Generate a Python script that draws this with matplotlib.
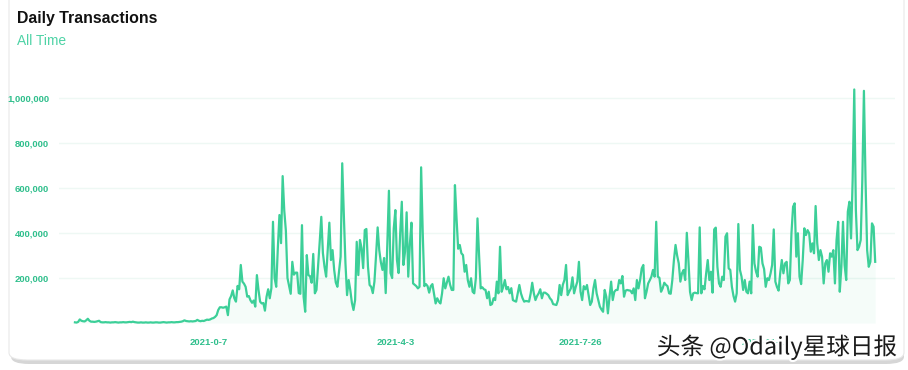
import numpy as np
import pandas as pd
import matplotlib
matplotlib.use("Agg")
import matplotlib.pyplot as plt
import matplotlib.patheffects as pe
from matplotlib.patches import FancyBboxPatch
from matplotlib.ticker import FuncFormatter

# Daily transactions (thousands), one value per day from 2020-10-16
tx_k = [
    3, 2, 5, 16, 10, 8, 7, 12, 19, 10, 6, 6, 5, 6, 8, 10, 4, 3, 3, 4,
    3, 3, 2, 3, 3, 4, 3, 2, 3, 3, 4, 3, 3, 4, 5, 4, 6, 4, 3, 2,
    2, 3, 2, 2, 3, 2, 2, 3, 2, 2, 3, 3, 2, 2, 3, 4, 3, 2, 3, 3,
    4, 3, 3, 4, 4, 5, 6, 8, 12, 9, 8, 7, 8, 7, 8, 9, 14, 10, 8, 10,
    9, 12, 15, 14, 16, 20, 22, 27, 35, 58, 70, 70, 68, 70, 73, 35, 105, 120, 145, 110,
    95, 165, 150, 258, 184, 175, 161, 117, 120, 101, 90, 100, 73, 213, 147, 95, 87, 89, 55, 117,
    150, 110, 155, 450, 200, 161, 333, 480, 355, 653, 500, 410, 200, 165, 130, 272, 215, 224, 224, 133,
    130, 435, 117, 50, 302, 213, 208, 179, 307, 132, 147, 250, 360, 472, 311, 250, 206, 330, 446, 280,
    324, 236, 180, 161, 230, 295, 710, 480, 266, 124, 191, 147, 90, 58, 102, 361, 213, 369, 333, 244,
    413, 418, 250, 169, 161, 133, 184, 300, 425, 324, 270, 236, 289, 133, 350, 588, 222, 200, 420, 502,
    280, 222, 400, 539, 258, 317, 492, 206, 350, 446, 176, 170, 164, 154, 161, 692, 400, 164, 173, 164,
    135, 164, 173, 130, 87, 110, 95, 87, 132, 199, 154, 180, 206, 170, 147, 147, 613, 465, 330, 347,
    310, 302, 228, 258, 190, 161, 199, 139, 132, 200, 465, 300, 154, 159, 150, 147, 110, 139, 80, 84,
    110, 102, 184, 132, 339, 139, 161, 191, 150, 160, 132, 155, 102, 98, 95, 132, 169, 132, 110, 95,
    98, 97, 95, 130, 179, 132, 102, 120, 132, 150, 110, 135, 135, 130, 124, 110, 102, 84, 82, 80,
    102, 169, 124, 170, 191, 258, 124, 140, 154, 203, 132, 160, 184, 272, 139, 102, 164, 150, 169, 124,
    80, 95, 154, 191, 132, 102, 73, 60, 50, 147, 117, 43, 117, 184, 102, 139, 147, 147, 191, 176,
    209, 117, 144, 147, 145, 144, 132, 154, 102, 191, 154, 191, 243, 258, 110, 139, 176, 190, 206, 236,
    206, 450, 206, 201, 139, 154, 179, 170, 164, 132, 130, 191, 280, 347, 300, 265, 184, 221, 236, 191,
    401, 280, 139, 102, 132, 135, 133, 132, 425, 132, 164, 150, 220, 280, 191, 228, 135, 416, 424, 250,
    176, 161, 206, 191, 384, 399, 243, 236, 161, 120, 95, 132, 440, 236, 206, 147, 191, 139, 132, 184,
    132, 436, 265, 228, 206, 339, 335, 265, 240, 161, 199, 191, 220, 258, 416, 184, 160, 144, 221, 280,
    221, 265, 272, 176, 191, 400, 517, 532, 295, 399, 206, 173, 280, 421, 391, 413, 399, 317, 354, 310,
    520, 354, 280, 324, 295, 176, 265, 280, 228, 310, 295, 324, 176, 369, 450, 139, 250, 450, 258, 191,
    495, 539, 376, 635, 1038, 502, 324, 339, 369, 635, 1032, 635, 324, 250, 272, 443, 428, 272,
]
start_date = "2020-10-16"
tick_dates = ["2021-01-07", "2021-05-03", "2021-08-26", "2021-12-19"]
tick_labels = ["2021-0-7", "2021-4-3", "2021-7-26", "2021-11-19"]
y_ticks = [200000, 400000, 600000, 800000, 1000000]

values = np.array(tx_k) * 1000
dates = pd.date_range(start_date, periods=len(values), freq="D")

line_col = "#3ccf98"
label_col = "#2fbf8c"
W, H = 908, 370

fig = plt.figure(figsize=(W / 100, H / 100), dpi=100)
fig.patch.set_facecolor("white")

# card with soft shadow
shadow = FancyBboxPatch((11 / W, 1 - 364 / H), 893 / W, 370 / H,
                        boxstyle="round,pad=0,rounding_size=0.02",
                        transform=fig.transFigure, facecolor="#d6d6d6",
                        edgecolor="none", zorder=0)
card = FancyBboxPatch((9 / W, 1 - 360 / H), 895 / W, 372 / H,
                      boxstyle="round,pad=0,rounding_size=0.02",
                      transform=fig.transFigure, facecolor="white",
                      edgecolor="#e8e8e8", linewidth=0.8, zorder=1)
fig.patches.extend([shadow, card])

ax = fig.add_axes([59 / W, 1 - 330 / H, (895 - 59) / W, (330 - 60) / H])
ax.set_zorder(2)
ax.patch.set_alpha(0)

ax.plot(dates, values, color=line_col, linewidth=1.6, zorder=3)
ax.fill_between(dates, values, 0, color=line_col, alpha=0.05, linewidth=0, zorder=2)

d0 = dates[0]
ax.set_xlim(d0 - pd.Timedelta(days=9.9), d0 + pd.Timedelta(days=509.3))
ax.set_ylim(-31000, 1169000)

ax.set_yticks(y_ticks)
ax.yaxis.set_major_formatter(FuncFormatter(lambda v, p: f"{int(v):,}"))
ax.set_xticks(pd.to_datetime(tick_dates))
ax.set_xticklabels(tick_labels)
ax.grid(axis="y", color="#eef8f4", linewidth=1.0)
ax.set_axisbelow(True)
for s in ax.spines.values():
    s.set_visible(False)
ax.tick_params(length=0, labelcolor=label_col)
ax.tick_params(axis="y", pad=7)
ax.tick_params(axis="x", pad=6)
for t in ax.get_yticklabels() + ax.get_xticklabels():
    t.set_fontfamily("Liberation Sans")
    t.set_fontweight("bold")
    t.set_fontsize(6.8)

fig.text(17 / W, 1 - 18 / H, "Daily Transactions", fontsize=11.4, fontweight="bold",
         color="#111111", family="Liberation Sans", va="center", ha="left", zorder=5)
fig.text(17 / W, 1 - 41 / H, "All Time", fontsize=9.9, color="#4fd3a6",
         family="Liberation Sans", va="center", ha="left", zorder=5)

# source watermark, drawn over the last date label as in the original
wm = fig.text(897 / W, 1 - 347 / H, "头条 @Odaily星球日报", fontsize=17,
              color="#1a1a1a", family=["Noto Sans CJK SC", "DejaVu Sans"],
              ha="right", va="center", zorder=6)
wm.set_path_effects([pe.withStroke(linewidth=3, foreground="white")])

fig.savefig("out.png", dpi=100, facecolor="white")
